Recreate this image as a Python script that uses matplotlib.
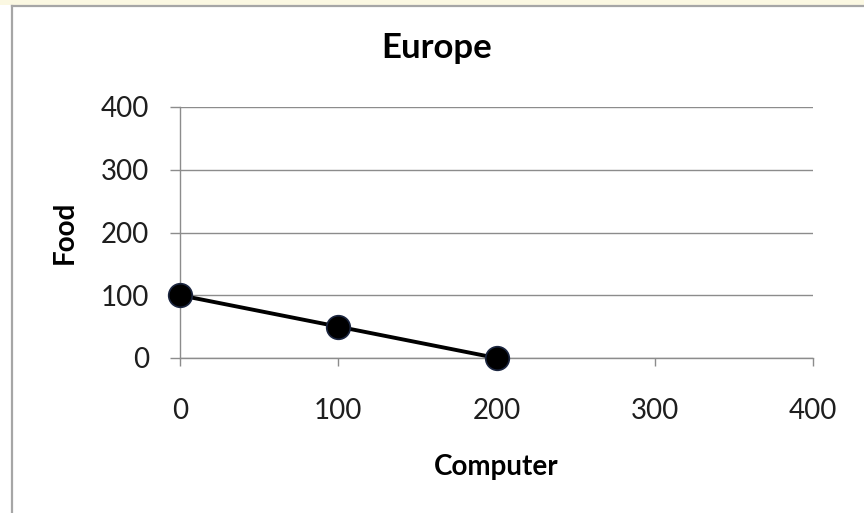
import matplotlib
matplotlib.use("Agg")
import matplotlib.pyplot as plt
from matplotlib.lines import Line2D
from matplotlib.patches import Rectangle

plt.rcParams["font.family"] = ["Lato", "DejaVu Sans"]

# Europe production possibilities
computer = [0, 100, 200]
food = [100, 50, 0]
x_ticks = [0, 100, 200, 300, 400]
y_ticks = [0, 100, 200, 300, 400]

W, H = 864, 513
fig = plt.figure(figsize=(W / 100, H / 100), dpi=100)
fig.patch.set_facecolor("white")

# frame around the chart area
fig.add_artist(Rectangle((0, 1 - 5 / H), 1, 5 / H, transform=fig.transFigure,
                         facecolor="#fbf8e2", edgecolor="none"))
fig.add_artist(Line2D([12 / W, 1], [1 - 6 / H, 1 - 6 / H], transform=fig.transFigure,
                      color="#a6a6a6", lw=1.6))
fig.add_artist(Line2D([12 / W, 12 / W], [0, 1 - 6 / H], transform=fig.transFigure,
                      color="#a6a6a6", lw=1.6))

ax = fig.add_axes([180 / W, 1 - 358 / H, (813 - 180) / W, (358 - 107) / H])
ax.set_xlim(0, 400)
ax.set_ylim(0, 400)
ax.set_xticks(x_ticks)
ax.set_yticks(y_ticks)

ax.grid(axis="y", color="#8c8c8c", lw=1.0)
ax.set_axisbelow(True)
for side in ["top", "right"]:
    ax.spines[side].set_visible(False)
for side in ["left", "bottom"]:
    ax.spines[side].set_color("#8c8c8c")
    ax.spines[side].set_linewidth(1.0)

ax.tick_params(axis="both", colors="#8c8c8c", labelcolor="#1e1e1e", labelsize=20, width=1.0)
ax.tick_params(axis="x", length=6, pad=23)
ax.tick_params(axis="y", length=7, pad=15)

ax.plot(computer, food, color="black", lw=2.8, marker="o", markersize=17,
        markerfacecolor="black", markeredgecolor="#1c2640", markeredgewidth=1.2,
        clip_on=False, zorder=5)

# title sits over the whole chart area, not just the plot
fig.text(437 / W, 1 - 48 / H, "Europe", fontsize=25, fontweight="bold",
         ha="center", va="center")

ax.set_xlabel("Computer", fontsize=20, fontweight="bold", va="center")
ax.xaxis.set_label_coords(0.5, (358 - 467) / (358 - 107))
ax.set_ylabel("Food", fontsize=20, fontweight="bold", va="center")
ax.yaxis.set_label_coords((65 - 180) / (813 - 180), 0.5)

fig.savefig("out.png", dpi=100)
